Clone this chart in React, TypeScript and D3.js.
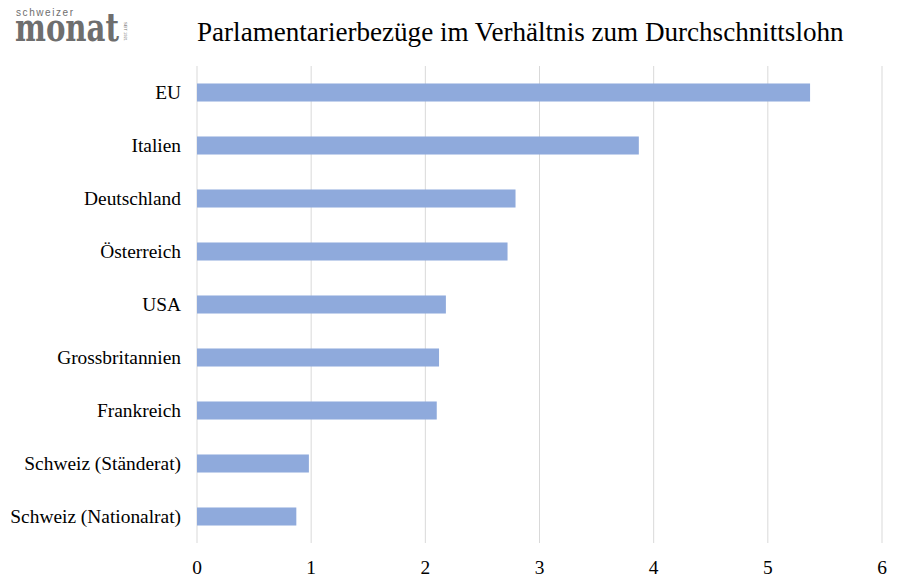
import React, { useRef, useEffect } from 'react';
import * as d3 from 'd3';

const countries = [
  'EU',
  'Italien',
  'Deutschland',
  'Österreich',
  'USA',
  'Grossbritannien',
  'Frankreich',
  'Schweiz (Ständerat)',
  'Schweiz (Nationalrat)',
];
const ratios = [5.37, 3.87, 2.79, 2.72, 2.18, 2.12, 2.1, 0.98, 0.87];
const xTicks = [0, 1, 2, 3, 4, 5, 6];

const serif = 'Liberation Serif, Tinos, Times New Roman, DejaVu Serif, serif';
const sans = 'Liberation Sans, Arial, DejaVu Sans, sans-serif';

const App = () => {
  const d3Container = useRef(null);

  useEffect(() => {
    if (d3Container.current) {
      const width = 903;
      const height = 586;
      const margin = { top: 66, right: 21, bottom: 43, left: 197 };

      d3.select(d3Container.current).select('svg').remove();

      const svg = d3.select(d3Container.current)
        .append('svg')
        .attr('width', width)
        .attr('height', height);

      svg.append('rect')
        .attr('width', width)
        .attr('height', height)
        .attr('fill', '#ffffff');

      const x = d3.scaleLinear()
        .domain([0, 6])
        .range([margin.left, width - margin.right]);

      const y = d3.scaleBand()
        .domain(countries)
        .range([margin.top, height - margin.bottom])
        .paddingInner(0.66)
        .paddingOuter(0.33);

      // vertical gridlines
      svg.append('g')
        .selectAll('line')
        .data(xTicks)
        .join('line')
        .attr('x1', d => x(d))
        .attr('x2', d => x(d))
        .attr('y1', margin.top)
        .attr('y2', height - margin.bottom)
        .attr('stroke', '#d9d9d9')
        .attr('stroke-width', 1);

      // bars
      svg.append('g')
        .selectAll('rect')
        .data(countries)
        .join('rect')
        .attr('x', x(0))
        .attr('y', d => y(d))
        .attr('width', (d, i) => x(ratios[i]) - x(0))
        .attr('height', y.bandwidth())
        .attr('fill', '#8faadc');

      // category labels
      svg.append('g')
        .selectAll('text')
        .data(countries)
        .join('text')
        .attr('x', 181)
        .attr('y', d => y(d) + y.bandwidth() / 2)
        .attr('dy', '0.33em')
        .attr('text-anchor', 'end')
        .attr('font-family', serif)
        .attr('font-size', 19.4)
        .attr('fill', '#000')
        .text(d => d);

      // x tick labels
      svg.append('g')
        .selectAll('text')
        .data(xTicks)
        .join('text')
        .attr('x', d => x(d))
        .attr('y', 574)
        .attr('text-anchor', 'middle')
        .attr('font-family', serif)
        .attr('font-size', 19.4)
        .attr('fill', '#000')
        .text(d => d);

      // title
      svg.append('text')
        .attr('x', 197)
        .attr('y', 41)
        .attr('font-family', serif)
        .attr('font-size', 27.1)
        .attr('fill', '#000')
        .text('Parlamentarierbezüge im Verhältnis zum Durchschnittslohn');

      // logo
      const logo = svg.append('g').attr('fill', '#6e6e6e');
      logo.append('text')
        .attr('x', 16)
        .attr('y', 16)
        .attr('font-family', sans)
        .attr('font-size', 10)
        .attr('textLength', 57)
        .text('schweizer');
      logo.append('text')
        .attr('transform', 'translate(15,41) scale(1,1.5)')
        .attr('font-family', 'DejaVu Serif, serif')
        .attr('font-weight', 'bold')
        .attr('font-size', 26)
        .attr('textLength', 104)
        .attr('lengthAdjust', 'spacingAndGlyphs')
        .text('monat');
      logo.append('text')
        .attr('transform', 'translate(124,22) rotate(90)')
        .attr('font-family', sans)
        .attr('font-size', 4)
        .text('SEIT 1921');
    }
  }, []);

  return (
    <div style={{ position: 'absolute', left: 0, top: 0 }}>
      <div ref={d3Container} />
    </div>
  );
};

export default App;
